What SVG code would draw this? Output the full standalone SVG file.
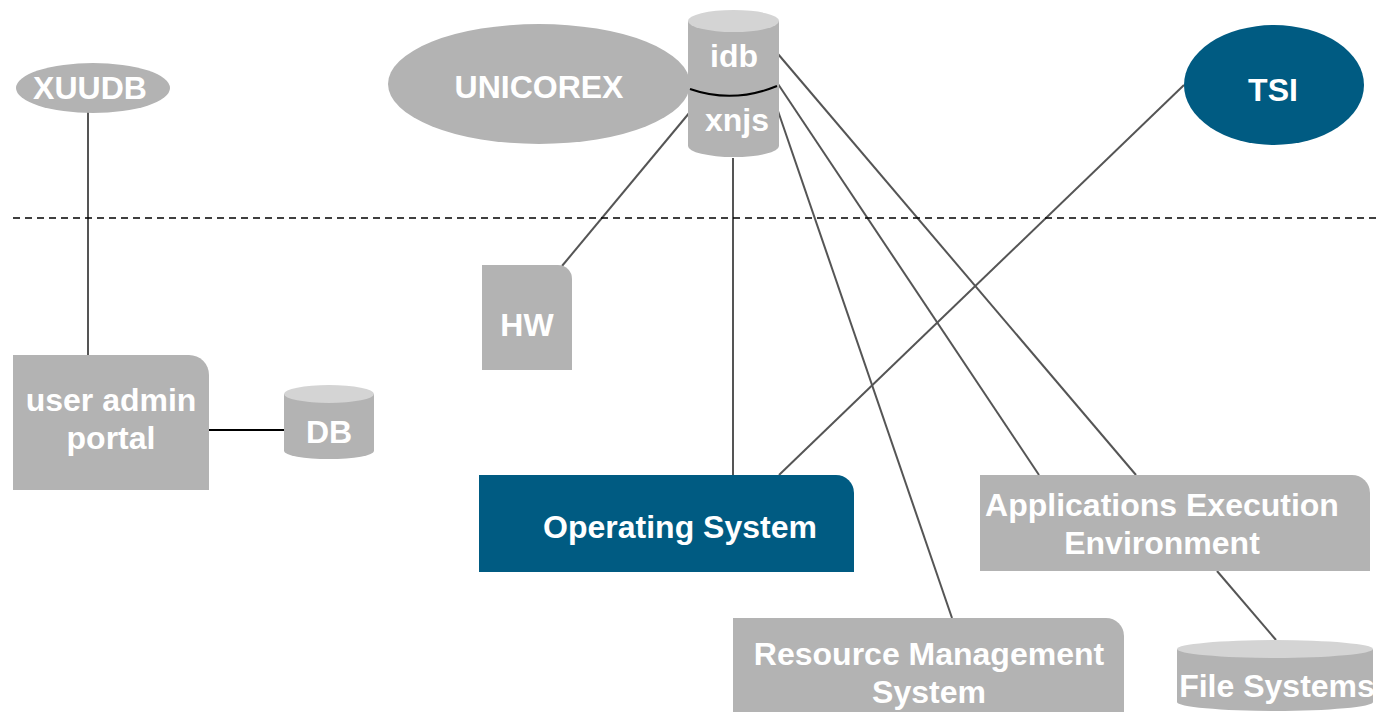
<svg xmlns="http://www.w3.org/2000/svg" width="1376" height="712" viewBox="0 0 1376 712">
<style>
.g{fill:#b3b3b3}
.cap{fill:#d4d4d4}
.b{fill:#005b82}
.t{font-family:"Liberation Sans",Arial,sans-serif;font-weight:bold;font-size:32px;fill:#fff;text-anchor:middle}
.c{stroke:#555;stroke-width:2;fill:none}
</style>
<rect width="1376" height="712" fill="#fff"/>
<g id="connectors">
<line class="c" x1="88" y1="112" x2="88" y2="355"/>
<line x1="209" y1="430" x2="285" y2="430" stroke="#000" stroke-width="2"/>
<line class="c" x1="690" y1="112" x2="562" y2="266"/>
<line class="c" x1="733" y1="158" x2="733" y2="475"/>
<line class="c" x1="778" y1="54" x2="1136" y2="475"/>
<line class="c" x1="778" y1="84" x2="1039" y2="475"/>
<line class="c" x1="778" y1="111" x2="952" y2="618"/>
<line class="c" x1="1184" y1="85" x2="779" y2="475"/>
<line class="c" x1="1217" y1="571" x2="1276" y2="640"/>
<line x1="13" y1="218" x2="1376" y2="218" stroke="#000" stroke-width="1.5" stroke-dasharray="7,5"/>
</g>
<g id="xuudb">
<ellipse class="g" cx="93" cy="88" rx="77" ry="25"/>
<text class="t" x="90" y="99">XUUDB</text>
</g>
<g id="portal">
<path class="g" d="M13,355 H189 A20,20 0 0 1 209,375 V490 H13 Z"/>
<text class="t" x="111" y="411">user admin</text>
<text class="t" x="111" y="449">portal</text>
</g>
<g id="db">
<path class="g" d="M284,394 V451 A45,8 0 0 0 374,451 V394 Z"/>
<ellipse class="cap" cx="329" cy="394" rx="45" ry="9"/>
<text class="t" x="329" y="443">DB</text>
</g>
<g id="unicorex">
<ellipse class="g" cx="539" cy="84" rx="151" ry="60"/>
<text class="t" x="539" y="98">UNICOREX</text>
</g>
<g id="idb">
<path class="g" d="M688,21 V146 A45.5,11 0 0 0 779,146 V21 Z"/>
<ellipse class="cap" cx="733.5" cy="21" rx="45.5" ry="11"/>
<path d="M690,89 Q733,104 777,86" stroke="#000" stroke-width="2" fill="none"/>
<text class="t" x="734" y="67">idb</text>
<text class="t" x="737" y="131">xnjs</text>
</g>
<g id="tsi">
<ellipse class="b" cx="1274" cy="85" rx="90" ry="60"/>
<text class="t" x="1273" y="101">TSI</text>
</g>
<g id="hw">
<path class="g" d="M482,265 H558 A14,14 0 0 1 572,279 V370 H482 Z"/>
<text class="t" x="527" y="336">HW</text>
</g>
<g id="os">
<path class="b" d="M479,475 H836 A18,18 0 0 1 854,493 V572 H479 Z"/>
<text class="t" x="680" y="538">Operating System</text>
</g>
<g id="aee">
<path class="g" d="M980,475 H1352 A18,18 0 0 1 1370,493 V571 H980 Z"/>
<text class="t" x="1162" y="516">Applications Execution</text>
<text class="t" x="1162" y="554">Environment</text>
</g>
<g id="rms">
<path class="g" d="M733,618 H1106 A18,18 0 0 1 1124,636 V712 H733 Z"/>
<text class="t" x="929" y="665">Resource Management</text>
<text class="t" x="929" y="703">System</text>
</g>
<g id="fs">
<path class="g" d="M1177,649 V702 A98,9 0 0 0 1373,702 V649 Z"/>
<ellipse class="cap" cx="1275" cy="649" rx="98" ry="9"/>
<text class="t" x="1277" y="697">File Systems</text>
</g>
</svg>
